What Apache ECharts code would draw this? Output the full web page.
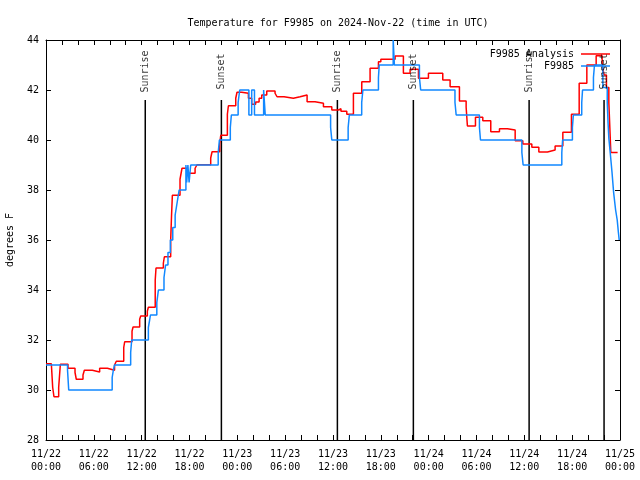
<!DOCTYPE html>
<html>
<head>
<meta charset="utf-8">
<script src="https://cdn.jsdelivr.net/npm/echarts@6/dist/echarts.min.js"></script>
<style>html,body{margin:0;padding:0;background:#fff}#c{width:640px;height:480px}</style>
</head>
<body>
<div id="c"></div>
<script>
// hours since 2024-11-22 00:00 UTC
const xTickLabels = ['11/22\n00:00','11/22\n06:00','11/22\n12:00','11/22\n18:00','11/23\n00:00','11/23\n06:00','11/23\n12:00','11/23\n18:00','11/24\n00:00','11/24\n06:00','11/24\n12:00','11/24\n18:00','11/25\n00:00'];
const yTicks = [28, 30, 32, 34, 36, 38, 40, 42, 44];

const redTimes = [0,0.67,0.84,1.0,1.59,1.8,2.76,3.64,3.8,4.64,4.81,5.81,6.73,7.7,8.6,8.82,9.75,9.87,10.79,10.92,11.75,11.88,12.71,12.84,13.7,13.8,14.72,14.85,15.64,15.75,15.85,16.81,17.06,17.69,18.7,18.95,20.66,20.83,21.79,21.92,22.75,22.88,23.8,23.96,24.55,25.39,25.8,26.3,26.73,27.06,27.69,28.73,28.98,29.86,31.03,31.87,32.75,33.75,34.8,35.85,36.68,37.0,37.73,38.56,39.61,40.65,41.7,42.0,43.79,44.83,45.67,46.72,47.97,49.77,50.69,51.86,52.7,52.86,53.87,54.79,55.79,56.88,57.88,58.85,59.81,60.94,61.82,62.9,63.86,64.83,65.91,66.88,67.84,69.01,69.76,70.0,70.3,70.6,70.85,71.7];
const redTemps = [31.05,31.1,30.1,29.73,30.1,31.03,30.87,30.7,30.43,30.6,30.79,30.72,30.87,30.79,31.0,31.15,31.7,31.93,32.35,32.52,32.83,32.96,33.15,33.31,34.4,34.88,35.07,35.33,36.0,37.0,37.79,38.43,38.87,38.67,38.87,39.01,39.28,39.53,39.84,40.19,41.03,41.37,41.67,41.91,41.87,41.67,41.43,41.52,41.67,41.8,41.96,41.87,41.73,41.67,41.73,41.8,41.53,41.47,41.33,41.2,41.25,41.15,41.03,41.87,42.33,42.87,43.13,43.23,43.36,42.67,42.83,42.47,42.67,42.4,42.13,41.56,41.31,40.56,40.91,40.77,40.33,40.45,40.4,39.97,39.84,39.71,39.52,39.6,39.76,40.31,41.03,42.27,43.0,43.37,43.0,42.6,42.1,41.5,39.5,39.5];

const blueTimes = [0,2.7,2.85,8.3,8.45,8.6,10.62,10.75,12.84,13.0,13.1,13.9,14.1,14.8,15.0,15.3,15.6,15.9,16.2,16.45,16.7,17.55,17.65,17.8,17.95,18.15,21.6,21.75,23.12,23.25,24.1,24.3,25.45,25.8,26.15,27.3,27.5,35.7,35.85,37.9,38.05,39.6,39.75,41.7,41.8,43.55,43.7,46.84,47.0,51.3,51.45,54.37,54.5,59.69,59.85,64.7,64.8,66.03,66.15,67.2,67.3,68.67,68.8,69.85,70.4,70.5,70.6,70.8,71.0,71.2,71.45,71.65,71.8,71.9];
const blueTemps = [31,30.8,30,30.5,30.8,31,31.5,32,32.5,32.8,33,33.5,34,34.5,35,35.5,36,36.5,37,37.5,38,39,38.3,39,38.3,39,39.5,40,40.5,41,41.5,42,41,42,41,42,41,40.5,40,40.5,41,41.5,42,42.5,43,44,43,42.5,42,41.5,41,40.5,40,39.5,39,39.5,40,40.5,41,41.5,42,42.5,43,42.1,41.5,40.7,40.07,39.4,38.7,37.9,37.2,36.8,36.3,36.0];

const sunTimes = [12.45, 22.0, 36.55, 46.08, 60.6, 70.0];
const sunLabels = ['Sunrise', 'Sunset', 'Sunrise', 'Sunset', 'Sunrise', 'Sunset'];
const sunLineTop = 41.6;
const sunLabelY = 42.74;

const FONT = 'DejaVu Sans Mono';
const zip = (a, b) => a.map((t, i) => [t, b[i]]);

const series = [];
sunTimes.forEach((t, i) => {
  series.push({
    type: 'line', data: [[t, 28], [t, sunLineTop]], showSymbol: false, silent: true,
    lineStyle: { color: '#000', width: 1.5 }, z: 1, animation: false
  });
});
series.push({
  name: 'F9985 Analysis', type: 'line', step: 'end', data: zip(redTimes, redTemps),
  showSymbol: false, lineStyle: { color: '#ff0000', width: 1.5 }, itemStyle: { color: '#ff0000' }, z: 2, animation: false
});
series.push({
  name: 'F9985', type: 'line', step: 'end', data: zip(blueTimes, blueTemps),
  showSymbol: false, lineStyle: { color: '#1188ff', width: 1.5 }, itemStyle: { color: '#1188ff' }, z: 3, animation: false
});
series.push({
  type: 'scatter', symbolSize: 0, silent: true, z: 4, animation: false,
  data: sunTimes.map((t, i) => ({ value: [t, sunLabelY], name: sunLabels[i] })),
  label: { show: true, position: 'inside', rotate: 90, formatter: p => p.name, color: '#000', fontFamily: FONT, fontSize: 10 }
});

const commonTick = { show: true, inside: true, length: 5, lineStyle: { color: '#000', width: 1 } };
const axisLineStyle = { show: true, onZero: false, lineStyle: { color: '#000', width: 1 } };

const chart = echarts.init(document.getElementById('c'), null, { renderer: 'canvas' });
chart.setOption({
  animation: false,
  backgroundColor: '#fff',
  title: {
    text: 'Temperature for F9985 on 2024-Nov-22 (time in UTC)',
    left: 333, top: 13, textAlign: 'center',
    textStyle: { fontFamily: FONT, fontSize: 10, fontWeight: 'normal', color: '#000' }
  },
  legend: [
    { data: ['F9985 Analysis'], orient: 'vertical', right: 25, top: 44, align: 'right', icon: 'rect', itemWidth: 29, itemHeight: 1.5,
      textStyle: { fontFamily: FONT, fontSize: 10, color: '#000', padding: [0, 2, 0, 0] } },
    { data: ['F9985'], orient: 'vertical', right: 25, top: 56, align: 'right', icon: 'rect', itemWidth: 29, itemHeight: 1.5,
      textStyle: { fontFamily: FONT, fontSize: 10, color: '#000', padding: [0, 2, 0, 0] } }
  ],
  grid: { left: 46, right: 20, top: 40, bottom: 40, containLabel: false, outerBoundsMode: 'none' },
  xAxis: [
    { type: 'value', min: 0, max: 72, interval: 2, position: 'bottom',
      axisLine: axisLineStyle, axisTick: commonTick, splitLine: { show: false },
      axisLabel: { formatter: v => (v % 6 === 0 ? xTickLabels[v / 6] : ''), fontFamily: FONT, fontSize: 10, color: '#000', lineHeight: 13, margin: 8, showMinLabel: true, showMaxLabel: true } },
    { type: 'value', min: 0, max: 72, interval: 2, position: 'top',
      axisLine: axisLineStyle, axisTick: commonTick, splitLine: { show: false }, axisLabel: { show: false } }
  ],
  yAxis: [
    { type: 'value', min: 28, max: 44, interval: 2, position: 'left',
      name: 'degrees F', nameLocation: 'middle', nameGap: 31, nameRotate: 90,
      nameTextStyle: { fontFamily: FONT, fontSize: 10, color: '#000' },
      axisLine: axisLineStyle, axisTick: commonTick, splitLine: { show: false },
      axisLabel: { formatter: v => (yTicks.indexOf(v) >= 0 ? String(v) : ''), fontFamily: FONT, fontSize: 10, color: '#000', margin: 7 } },
    { type: 'value', min: 28, max: 44, interval: 2, position: 'right',
      axisLine: axisLineStyle, axisTick: commonTick, splitLine: { show: false }, axisLabel: { show: false } }
  ],
  series: series
});
</script>
</body>
</html>
